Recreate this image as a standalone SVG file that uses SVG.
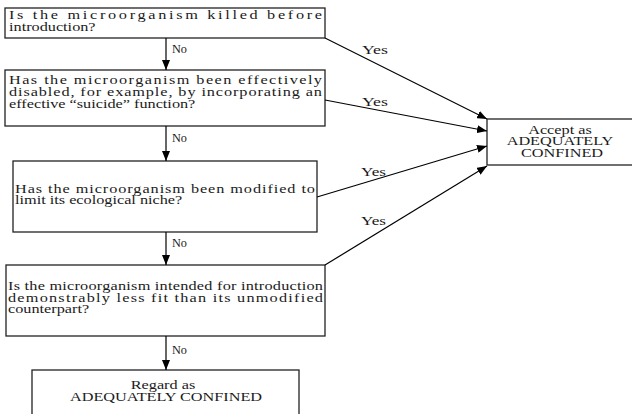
<svg xmlns="http://www.w3.org/2000/svg" width="632" height="414" viewBox="0 0 632 414">
  <defs>
    <marker id="arrow" viewBox="0 0 10 8" refX="10" refY="4" markerWidth="10" markerHeight="8" markerUnits="userSpaceOnUse" orient="auto">
      <path d="M0,0 L10,4 L0,8 Z" fill="#000"/>
    </marker>
  </defs>
  <style>
    .box { fill: #fff; stroke: #222; stroke-width: 1.3; }
    /* wide, light serif lettering: glyphs are stretched 1.25x horizontally via transform */
    .t { font-family: "Liberation Serif", "Times New Roman", serif; font-size: 13px; fill: #1a1a1a; }
    .c { text-anchor: middle; }
    .lbl { font-family: "Liberation Serif", "Times New Roman", serif; font-size: 13px; fill: #1a1a1a; }
    .edge { fill: none; stroke: #000; stroke-width: 1.2; marker-end: url(#arrow); }
  </style>
  <rect width="632" height="414" fill="#fff"/>

  <g id="q1">
    <rect class="box" x="5" y="8" width="320" height="30"/>
    <text class="t" transform="translate(9,0) scale(1.25,1)">
      <tspan x="0" y="19.5" textLength="250.4" lengthAdjust="spacing">Is the microorganism killed before</tspan>
      <tspan x="0" y="31">introduction?</tspan>
    </text>
  </g>

  <g id="q2">
    <rect class="box" x="5" y="70" width="320" height="56"/>
    <text class="t" transform="translate(9,0) scale(1.25,1)">
      <tspan x="0" y="84" textLength="250.4" lengthAdjust="spacing">Has the microorganism been effectively</tspan>
      <tspan x="0" y="96" textLength="250.4" lengthAdjust="spacing">disabled, for example, by incorporating an</tspan>
      <tspan x="0" y="108">effective “suicide” function?</tspan>
    </text>
  </g>

  <g id="q3">
    <rect class="box" x="13" y="161" width="304" height="71"/>
    <text class="t" transform="translate(15,0) scale(1.25,1)">
      <tspan x="0" y="193" textLength="240" lengthAdjust="spacing">Has the microorganism been modified to</tspan>
      <tspan x="0" y="204">limit its ecological niche?</tspan>
    </text>
  </g>

  <g id="q4">
    <rect class="box" x="6" y="265" width="319" height="71"/>
    <text class="t" transform="translate(8,0) scale(1.25,1)">
      <tspan x="0" y="290" textLength="252" lengthAdjust="spacing">Is the microorganism intended for introduction</tspan>
      <tspan x="0" y="302" textLength="252" lengthAdjust="spacing">demonstrably less fit than its unmodified</tspan>
      <tspan x="0" y="313.5">counterpart?</tspan>
    </text>
  </g>

  <g id="regard">
    <rect class="box" x="32" y="370" width="267" height="50"/>
    <text class="t c" transform="translate(165,0) scale(1.25,1)">
      <tspan x="0" y="389.5">Regard as</tspan>
      <tspan x="0.8" y="401">ADEQUATELY CONFINED</tspan>
    </text>
  </g>

  <g id="accept">
    <rect class="box" x="487" y="119" width="150" height="46"/>
    <text class="t c" transform="translate(562,0) scale(1.25,1)">
      <tspan x="0" y="134">Accept as</tspan>
      <tspan x="0" y="145.5">ADEQUATELY</tspan>
      <tspan x="0" y="157">CONFINED</tspan>
    </text>
  </g>

  <g id="connectors">
    <line class="edge" x1="166" y1="38" x2="166" y2="70"/>
    <line class="edge" x1="166" y1="126" x2="166" y2="161"/>
    <line class="edge" x1="166" y1="232" x2="166" y2="265"/>
    <line class="edge" x1="166" y1="336" x2="166" y2="370"/>
    <line class="edge" x1="325" y1="38" x2="487" y2="119"/>
    <line class="edge" x1="325" y1="100" x2="487" y2="131"/>
    <line class="edge" x1="317" y1="197" x2="487" y2="146"/>
    <line class="edge" x1="325" y1="265" x2="487" y2="166"/>
    <text class="lbl" x="172" y="53" textLength="15" lengthAdjust="spacingAndGlyphs">No</text>
    <text class="lbl" x="172" y="142" textLength="15" lengthAdjust="spacingAndGlyphs">No</text>
    <text class="lbl" x="172" y="247" textLength="15" lengthAdjust="spacingAndGlyphs">No</text>
    <text class="lbl" x="172" y="354" textLength="15" lengthAdjust="spacingAndGlyphs">No</text>
    <text class="lbl" x="362" y="54" textLength="26" lengthAdjust="spacingAndGlyphs">Yes</text>
    <text class="lbl" x="362" y="106" textLength="26" lengthAdjust="spacingAndGlyphs">Yes</text>
    <text class="lbl" x="361" y="176" textLength="25" lengthAdjust="spacingAndGlyphs">Yes</text>
    <text class="lbl" x="361" y="225" textLength="25" lengthAdjust="spacingAndGlyphs">Yes</text>
  </g>
</svg>
